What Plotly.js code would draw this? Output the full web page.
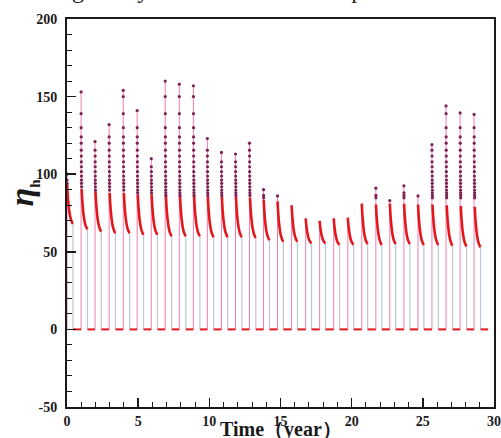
<!DOCTYPE html>
<html><head><meta charset="utf-8">
<script src="https://cdn.plot.ly/plotly-3.0.1.min.js"></script>
<style>html,body{margin:0;padding:0;background:#fff;}#chart{width:501px;height:438px;}</style>
</head><body><div id="chart"></div>
<script>
// Start of each operating cycle (year)
const cycleStart = [0, 0.99, 1.97, 2.96, 3.95, 4.93, 5.92, 6.90, 7.89, 8.88, 9.86, 10.85, 11.84, 12.82, 13.81, 14.79, 15.78, 16.77, 17.75, 18.74, 19.73, 20.71, 21.70, 22.68, 23.67, 24.66, 25.64, 26.63, 27.62, 28.60];
const lastZeroEnd = 29.59;
// Peak value of eta_h at the start of each cycle
const peakValue = [100, 153, 121, 132, 154, 141, 110, 160, 158, 157, 123, 114, 113, 120, 90, 86, 80, 71.5, 70, 71.5, 72, 81, 91, 83, 92.5, 86, 119, 144, 139.5, 138.5];
// Value at the end of each cycle (before the drop to 0)
const endValue = [68, 64.5, 63, 62, 62, 61, 61, 60, 60, 60, 59.5, 59.5, 59.5, 59, 57.5, 56.5, 56.5, 55.5, 55.5, 54.5, 54.5, 55, 54.5, 55, 55, 54.5, 54.5, 54, 53.5, 53];
// Daily values of the steep fall after a peak (dotted part, read from the 8th cycle)
const fallLadder = [150, 139, 130, 124, 120, 115.5, 111.7, 108, 104.8, 101.6, 98.8, 96.2, 94.1, 91.9, 89.8, 88, 86.3, 84.8];
// Slow decay after the steep fall: time after the fall (year) and share of the height above the end value
const slowTime = [0, 0.02, 0.04, 0.07, 0.10, 0.14, 0.19, 0.25, 0.32, 0.37, 0.41];
const slowShare = [1, 0.86, 0.74, 0.60, 0.48, 0.35, 0.23, 0.13, 0.06, 0.02, 0];
const kneeAboveEnd = 26;
// Axis ticks
const xTickVals = [0, 5, 10, 15, 20, 25, 30];
const xTickText = ['0', '5', '10', '15', '20', '25', '30'];
const yTickVals = [-50, 0, 50, 100, 150, 200];
const yTickText = ['-50', '0', '50', '100', '150', '200'];

const day = 1 / 365;
const rise = {x: [], y: []}, drop = {x: [], y: []}, zero = {x: [], y: []}, spike = {x: [], y: []}, slow = {x: [], y: []};
for (let k = 0; k < cycleStart.length; k++) {
  const t0 = cycleStart[k], p = peakValue[k], e = endValue[k];
  const knee = Math.min(p, e + kneeAboveEnd);
  rise.x.push(t0, t0, null); rise.y.push(0, p, null);
  let n = 0;
  if (p > knee) {
    spike.x.push(t0); spike.y.push(p); n = 1;
    for (const v of fallLadder) {
      if (v < p - 3 && v > knee) { spike.x.push(t0 + n * day); spike.y.push(v); n++; }
    }
    spike.x.push(null); spike.y.push(null);
  }
  const ts = t0 + n * day;
  for (let i = 0; i < slowTime.length; i++) {
    slow.x.push(ts + slowTime[i]); slow.y.push(e + (knee - e) * slowShare[i]);
  }
  slow.x.push(null); slow.y.push(null);
  const tEnd = ts + slowTime[slowTime.length - 1];
  drop.x.push(tEnd, tEnd, null); drop.y.push(e, 0, null);
  const next = k + 1 < cycleStart.length ? cycleStart[k + 1] : lastZeroEnd;
  zero.x.push(tEnd, next, null); zero.y.push(0, 0, null);
}

const traces = [
  {x: rise.x, y: rise.y, mode: 'lines', line: {color: '#ee7fae', width: 1}, hoverinfo: 'skip'},
  {x: drop.x, y: drop.y, mode: 'lines', line: {color: '#bcc6d6', width: 1.2}, hoverinfo: 'skip'},
  {x: zero.x, y: zero.y, mode: 'lines', line: {color: '#e3161c', width: 2}, hoverinfo: 'skip'},
  {x: slow.x, y: slow.y, mode: 'lines', line: {color: '#e3161c', width: 2.6, shape: 'spline', smoothing: 1}, hoverinfo: 'skip'},
  {x: spike.x, y: spike.y, mode: 'markers', marker: {color: '#7d2352', size: 3.2}, hoverinfo: 'skip'}
];

const serif = 'Liberation Serif';
const tickFont = {family: serif, size: 14, color: '#1a1a1a', weight: 700};
const layout = {
  width: 501, height: 438,
  margin: {l: 67, r: 7, t: 19, b: 31, pad: 0},
  paper_bgcolor: '#ffffff', plot_bgcolor: '#ffffff',
  showlegend: false,
  font: {family: serif, color: '#1a1a1a'},
  xaxis: {
    range: [0, 30], tickmode: 'array', tickvals: xTickVals, ticktext: xTickText,
    ticks: 'inside', ticklen: 9, tickwidth: 1.5, tickcolor: '#1a1a1a',
    minor: {tickmode: 'linear', tick0: 0, dtick: 1, ticks: 'inside', ticklen: 5, tickwidth: 1, tickcolor: '#1a1a1a'},
    showline: true, linewidth: 2, linecolor: '#1a1a1a', mirror: true,
    showgrid: false, zeroline: false, tickfont: tickFont, fixedrange: true
  },
  yaxis: {
    range: [-50, 200], tickmode: 'array', tickvals: yTickVals, ticktext: yTickText,
    ticks: 'inside', ticklen: 9, tickwidth: 1.5, tickcolor: '#1a1a1a',
    minor: {tickmode: 'linear', tick0: 0, dtick: 10, ticks: 'inside', ticklen: 5, tickwidth: 1, tickcolor: '#1a1a1a'},
    showline: true, linewidth: 2, linecolor: '#1a1a1a', mirror: true,
    showgrid: false, zeroline: false, tickfont: tickFont, ticklabelstandoff: 5, fixedrange: true
  },
  annotations: [
    {text: '<b>Time（year）</b>', xref: 'paper', yref: 'paper', x: 0.5, y: -0.058, xanchor: 'center', yanchor: 'middle', showarrow: false,
     font: {family: serif, size: 20, color: '#1a1a1a'}},
    {text: '<b><i>η</i></b><sub><b><span style="font-size:15px">h</span></b></sub>', xref: 'paper', yref: 'paper', x: -0.103, y: 0.553, xanchor: 'center', yanchor: 'middle', textangle: -90, showarrow: false,
     font: {family: serif, size: 34, color: '#1a1a1a'}},
    {text: 'wing a very favorable economic performance.', xref: 'paper', yref: 'paper', x: 0.444, y: 1.076, xanchor: 'center', yanchor: 'middle', showarrow: false,
     font: {family: serif, size: 24, color: '#222222'}}
  ]
};

Plotly.newPlot('chart', traces, layout, {displayModeBar: false, staticPlot: true});
</script>
</body></html>
